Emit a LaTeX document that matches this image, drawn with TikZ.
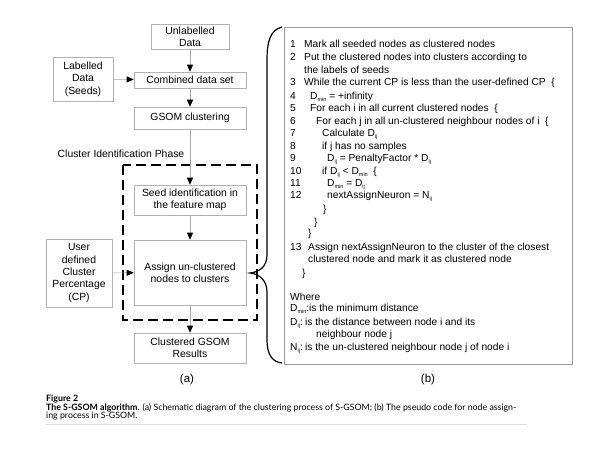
\documentclass[tikz,border=0pt]{standalone}
\usepackage{fontspec}
\setmainfont{Liberation Sans}
\newfontfamily\capfont{Lato}
\usetikzlibrary{arrows.meta}
\newcommand\subtxt[1]{\raisebox{-1.5pt}{\fontsize{5.5}{6}\selectfont#1}}
\newcommand\Dmin{D\subtxt{min}}
\newcommand\Dij{D\subtxt{ij}}
\newcommand\Nij{N\subtxt{ij}}

\begin{document}
\begin{tikzpicture}[x=1pt,y=-1pt,
  box/.style={draw=gray!60,line width=0.6pt,align=center,inner sep=1pt,
    font=\fontsize{10.4}{12.4}\selectfont},
  flow/.style={draw=gray!70,line width=0.6pt,
    -{Triangle[width=6pt,length=7pt,color=black]}},
  codeline/.style={anchor=base west,inner sep=0pt,
    font=\fontsize{10.2}{12}\selectfont},
  capline/.style={anchor=base west,inner sep=0pt,
    font=\capfont\fontsize{8.8}{9}\selectfont}]
\useasboundingbox[fill=white] (0,0) rectangle (600,450);
% (a) flow chart
\node[box,minimum width=78pt,minimum height=25pt] (unlab) at (190,36.5) {Unlabelled\\Data};
\node[box,minimum width=112pt,minimum height=16pt] (comb) at (190,80) {Combined data set};
\node[box,minimum width=60pt,minimum height=44pt] (lab) at (83,79) {Labelled\\Data\\(Seeds)};
\node[box,minimum width=112pt,minimum height=22pt] (gsom) at (190,118) {GSOM clustering};
\node[inner sep=0pt,font=\fontsize{10.4}{12.4}\selectfont] (phase) at (121,154) {Cluster Identification Phase};
\draw[line width=1.3pt,dash pattern=on 10pt off 5pt] (123,165) rectangle (257,320);
\node[box,minimum width=112pt,minimum height=30pt] (seed) at (190,200) {Seed identification in\\the feature map};
\node[box,minimum width=112pt,minimum height=65pt] (assign) at (190,272.5) {Assign un-clustered\\nodes to clusters};
\node[box,minimum width=66pt,minimum height=68pt] (user) at (79,273) {User\\defined\\Cluster\\Percentage\\(CP)};
\node[box,minimum width=112pt,minimum height=30pt] (result) at (190,348) {Clustered GSOM\\Results};
\draw[flow] (unlab) -- (comb);
\draw[flow] (lab) -- (comb);
\draw[flow] (comb) -- (gsom);
\draw[flow] (gsom) -- (seed);
\draw[flow] (seed) -- (assign);
\draw[flow] (user) -- (assign);
\draw[flow] (assign) -- (result);
\node[font=\fontsize{11.5}{13}\selectfont] (suba) at (187,380) {(a)};
% (b) pseudo code
\node[draw=gray!80,line width=0.8pt,minimum width=288pt,minimum height=337pt,inner sep=0pt] (code) at (428,195.5) {};
\draw[line width=1.2pt] (282,27) .. controls (270,30) and (267,42) .. (267,60)
  -- (267,255) .. controls (267,267) and (259,272) .. (250,273)
  .. controls (259,274) and (267,280) .. (267,292)
  -- (267,340) .. controls (267,354) and (272,362) .. (282,363);
\foreach \n/\yy in {1/47.5,2/60.5,3/85.5,4/99.5,5/111.5,6/124.5,7/136.5,8/149.5,9/161.5,10/174.5,11/186.5,12/198.5,13/250.5}
  \node[codeline] (num\n) at (290,\yy) {\n};
\node[codeline] (l1) at (304,47.5) {Mark all seeded nodes as clustered nodes};
\node[codeline] (l2) at (304,60.5) {Put the clustered nodes into clusters according to};
\node[codeline] (l2b) at (304,73.5) {the labels of seeds};
\node[codeline] (l3) at (304,85.5) {While the current CP is less than the user-defined CP\ \ \{};
\node[codeline] (l4) at (310,99.5) {\Dmin{} = +infinity};
\node[codeline] (l5) at (310,111.5) {For each i in all current clustered nodes\ \ \{};
\node[codeline] (l6) at (316,124.5) {For each j in all un-clustered neighbour nodes of i\ \ \{};
\node[codeline] (l7) at (322,136.5) {Calculate \Dij};
\node[codeline] (l8) at (322,149.5) {if j has no samples};
\node[codeline] (l9) at (327,161.5) {\Dij{} = PenaltyFactor * \Dij};
\node[codeline] (l10) at (322,174.5) {if \Dij{} < \Dmin\ \ \{};
\node[codeline] (l11) at (327,186.5) {\Dmin{} = \Dij};
\node[codeline] (l12) at (327,198.5) {nextAssignNeuron = \Nij};
\node[codeline] (c1) at (323,212.5) {\}};
\node[codeline] (c2) at (314,225.5) {\}};
\node[codeline] (c3) at (308,236.5) {\}};
\node[codeline] (l13) at (308,250.5) {Assign nextAssignNeuron to the cluster of the closest};
\node[codeline] (l13b) at (308,262.5) {clustered node and mark it as clustered node};
\node[codeline] (c4) at (302,276.5) {\}};
\node[codeline] (where) at (290,300.5) {Where};
\node[codeline] (w1) at (290,311.5) {\Dmin:};
\node[codeline] (w1t) at (309,311.5) {is the minimum distance};
\node[codeline] (w2) at (290,325.5) {\Dij:};
\node[codeline] (w2t) at (305,325.5) {is the distance between node i and its};
\node[codeline] (w2b) at (316,337.5) {neighbour node j};
\node[codeline] (w3) at (290,350.5) {\Nij:};
\node[codeline] (w3t) at (305,350.5) {is the un-clustered neighbour node j of node i};
\node[font=\fontsize{11.5}{13}\selectfont] (subb) at (428,380) {(b)};
% caption
\node[capline] (fig) at (46,401.5) {\textbf{Figure 2}};
\node[capline] (cap1) at (46,410) {\textbf{The S-GSOM algorithm.} (a) Schematic diagram of the clustering process of S-GSOM; (b) The pseudo code for node assign-};
\node[capline] (cap2) at (46,418.5) {ing process in S-GSOM.};
\draw[gray!25,line width=0.6pt] (46,424) -- (527,424);
\end{tikzpicture}
\end{document}
